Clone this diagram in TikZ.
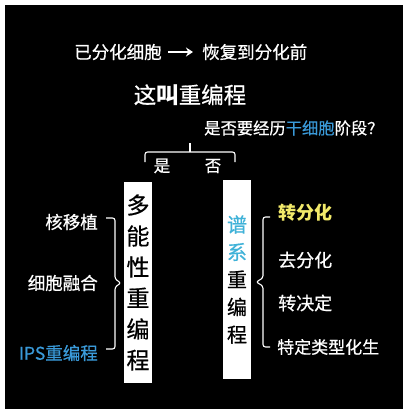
\documentclass[tikz,border=0pt]{standalone}
\usepackage{fontspec}
\setmainfont{Noto Sans CJK SC}[UprightFeatures={FakeBold=0.6}]
\usetikzlibrary{arrows.meta}
\definecolor{lblue}{HTML}{3A9AD9}
\definecolor{cyanb}{HTML}{3FB2D8}
\definecolor{yel}{HTML}{F2EA6A}
\tikzset{
  txt/.style={text=white, inner sep=0pt, font=\fontsize{17}{17}\selectfont},
  vbox/.style={fill=white, text=black, inner sep=0pt, align=center},
  brace/.style={draw=white, line width=1.1pt, rounded corners=2.5pt},
}
\begin{document}
\begin{tikzpicture}[x=1pt,y=-1pt]
\useasboundingbox (0,0) rectangle (420,420);
\fill[white] (0,0) rectangle (420,420);
\fill[black] (5,5) rectangle (403,409);
% title lines
\node[txt, anchor=west, font=\fontsize{17.5}{17.5}\selectfont] (t1a) at (74,52) {已分化细胞};
\node[txt, anchor=west, font=\fontsize{17.5}{17.5}\selectfont] (t1c) at (202,52) {恢复到分化前};
\coordinate (arrS) at (168,52);
\coordinate (arrE) at (193,52);
\draw[white, line width=1.8pt, -{Stealth[length=7pt,width=9pt]}] (arrS) -- (arrE);
\node[txt, font=\fontsize{22.5}{22.5}\selectfont] (t2) at (190,95) {这{\bfseries 叫}重编程};
\node[txt, anchor=west, font=\fontsize{16.3}{16.3}\selectfont] (q) at (204,128) {是否要经历\textcolor{lblue}{干细胞}阶段？};
% yes/no bracket
\coordinate (bm) at (190,143);
\coordinate (bc) at (190,152);
\coordinate (bl) at (145,152);
\coordinate (br) at (235,152);
\coordinate (bld) at (145,162);
\coordinate (brd) at (235,162);
\draw[brace] (bld) -- (bl) -- (br) -- (brd);
\draw[white, line width=1.1pt] (bm) -- (bc);
\node[txt, font=\fontsize{16.5}{16.5}\selectfont] (yes) at (162,166) {是};
\node[txt, font=\fontsize{16.5}{16.5}\selectfont] (no) at (213,166) {否};
% left box
\node[vbox, minimum width=28pt, minimum height=201pt, font=\fontsize{23}{31}\selectfont] (lb) at (138,282.5) {多\\能\\性\\重\\编\\程};
% right box
\node[vbox, minimum width=28pt, minimum height=199pt, font=\fontsize{20}{27.5}\selectfont] (rb) at (237,279.5) {\textcolor{cyanb}{谱}\\\textcolor{cyanb}{系}\\重\\编\\程};
% left labels
\node[txt, anchor=east, font=\fontsize{17.5}{17.5}\selectfont] (l1) at (98,222) {核移植};
\node[txt, anchor=east, font=\fontsize{17.5}{17.5}\selectfont] (l2) at (98,283) {细胞融合};
\node[txt, anchor=east, font=\fontsize{17.5}{17.5}\selectfont, text=lblue] (l3) at (98,353) {IPS重编程};
% left brace
\draw[brace] (106,218) -- (115,218) -- (115,279) -- (121,283) -- (115,287) -- (115,349) -- (106,349);
% right brace
\draw[brace] (270,217) -- (263,217) -- (263,278) -- (256,282) -- (263,286) -- (263,347) -- (270,347);
% right labels
\node[txt, anchor=west, font=\fontsize{18}{18}\selectfont\bfseries, text=yel] (r1) at (278,213) {转分化};
\node[txt, anchor=west, font=\fontsize{18}{18}\selectfont] (r2) at (278,260) {去分化};
\node[txt, anchor=west, font=\fontsize{18}{18}\selectfont] (r3) at (278,303) {转决定};
\node[txt, anchor=west, font=\fontsize{17}{17}\selectfont] (r4) at (277,347) {特定类型化生};
\end{tikzpicture}
\end{document}
